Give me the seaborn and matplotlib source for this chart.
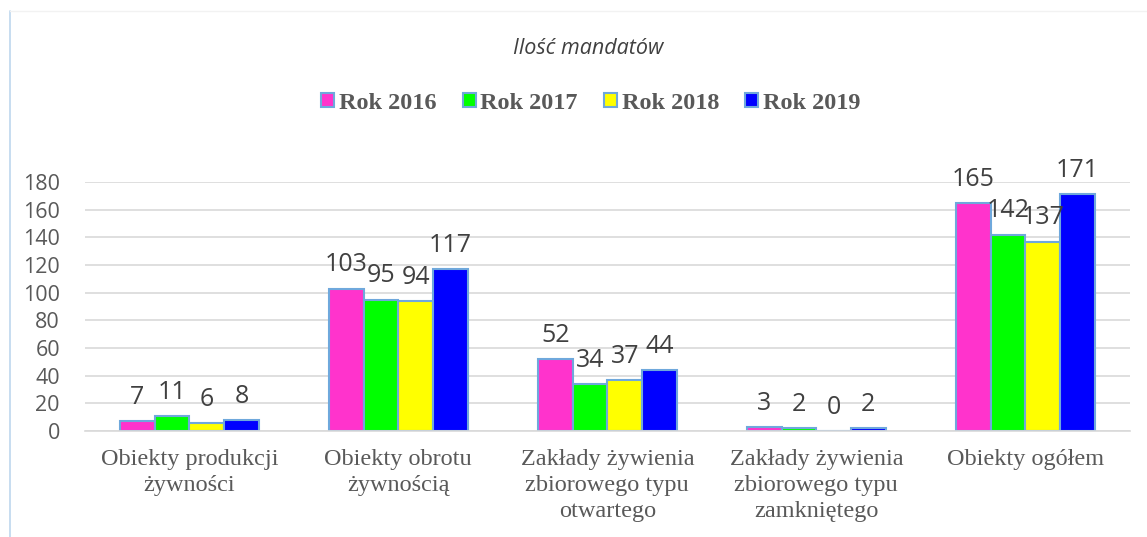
import matplotlib
matplotlib.use('Agg')
import matplotlib.pyplot as plt
import seaborn as sns
import pandas as pd
from matplotlib.patches import Patch
from matplotlib.lines import Line2D

# Dane do wykresu
categories = [
    'Obiekty produkcji\nżywności',
    'Obiekty obrotu\nżywnością',
    'Zakłady żywienia\nzbiorowego typu\notwartego',
    'Zakłady żywienia\nzbiorowego typu\nzamkniętego',
    'Obiekty ogółem',
]
years = ['Rok 2016', 'Rok 2017', 'Rok 2018', 'Rok 2019']
values_2016 = [7, 103, 52, 3, 165]
values_2017 = [11, 95, 34, 2, 142]
values_2018 = [6, 94, 37, 0, 137]
values_2019 = [8, 117, 44, 2, 171]
y_ticks = [0, 20, 40, 60, 80, 100, 120, 140, 160, 180]

colors = ['#FF33CC', '#00FF00', '#FFFF00', '#0000FF']
edge = '#6FA8DC'
text_gray = '#595959'

rows = []
for year, vals in zip(years, [values_2016, values_2017, values_2018, values_2019]):
    for cat, v in zip(categories, vals):
        rows.append({'kategoria': cat, 'rok': year, 'liczba': v})
df = pd.DataFrame(rows)

sns.set_style('white')
plt.rcParams['font.family'] = ['Open Sans', 'DejaVu Sans']

fig = plt.figure(figsize=(11.47, 5.37), dpi=100)
ax = fig.add_axes([0.074, 0.1974, 0.911, 0.4636])

sns.barplot(data=df, x='kategoria', y='liczba', hue='rok', palette=colors,
            width=0.665, edgecolor=edge, linewidth=1.5, saturation=1,
            legend=False, ax=ax)

ax.set_ylim(0, 180)
ax.set_yticks(y_ticks)
ax.set_xlim(-0.5, len(categories) - 0.5)
ax.yaxis.grid(True, color='#D9D9D9', linewidth=1.2)
ax.set_axisbelow(True)
for s in ['top', 'right', 'left']:
    ax.spines[s].set_visible(False)
ax.spines['bottom'].set_color('#D9D9D9')
ax.spines['bottom'].set_linewidth(1.2)
ax.tick_params(axis='both', length=0)
ax.tick_params(axis='y', labelsize=15.5, labelcolor=text_gray, pad=18)
ax.set_xlabel('')
ax.set_ylabel('')
ax.set_xticks(range(len(categories)))
ax.set_xticklabels(categories, family='Liberation Serif', fontsize=17.5,
                   color=text_gray, linespacing=1.3, va='top')
ax.tick_params(axis='x', pad=13)

# Etykiety wartości nad słupkami
for container in ax.containers:
    for bar in container:
        h = bar.get_height()
        ax.annotate(f'{int(h)}', (bar.get_x() + bar.get_width() / 2, h),
                    xytext=(0, 8), textcoords='offset points',
                    ha='center', va='bottom', fontsize=18, color='#404040',
                    annotation_clip=False)

fig.text(0.513, 0.91, 'Ilość mandatów', ha='center', va='center',
         fontsize=15.5, style='italic', color='#404040')

handles = [Patch(facecolor=c, edgecolor=edge, linewidth=1.5) for c in colors]
leg = fig.legend(handles, years, loc='center', bbox_to_anchor=(0.515, 0.808),
                 ncol=4, frameon=False, handlelength=0.54, handleheight=0.54,
                 handletextpad=0.19, columnspacing=1.07,
                 prop={'family': 'Liberation Serif', 'weight': 'bold', 'size': 17.5})
for t in leg.get_texts():
    t.set_color(text_gray)

# Ramka obszaru wykresu
fig.add_artist(Line2D([10 / 1147, 10 / 1147], [0, 0.98], color='#BDD7EE', linewidth=1.2))
fig.add_artist(Line2D([10 / 1147, 1.0], [0.98, 0.98], color='#F2F2F2', linewidth=1.0))

fig.savefig('out.png', dpi=100)
